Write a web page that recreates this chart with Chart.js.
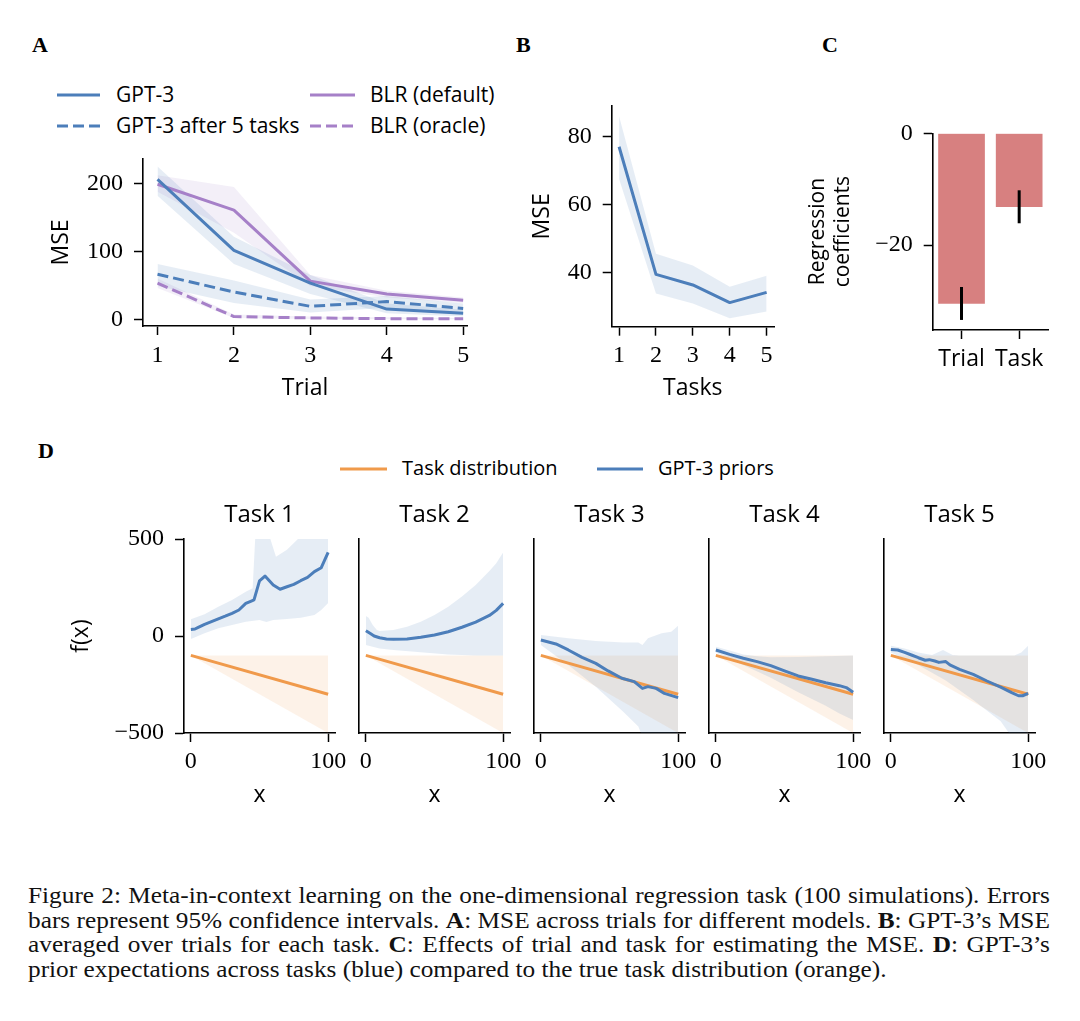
<!DOCTYPE html>
<html>
<head>
<meta charset="utf-8">
<script src="https://cdn.jsdelivr.net/npm/chart.js@4.4.1/dist/chart.umd.min.js"></script>
<style>
html,body{margin:0;padding:0;background:#fff;}
body{width:1080px;height:1021px;position:relative;overflow:hidden;font-family:'Open Sans',sans-serif;color:#000;}
canvas{position:absolute;}
.letter{position:absolute;font-family:'Liberation Serif',serif;font-weight:bold;font-size:22px;line-height:22px;}
.legtxt{position:absolute;white-space:nowrap;line-height:1;}
.cap{position:absolute;left:28px;width:929px;transform:scaleX(1.1);transform-origin:0 0;font-family:'Liberation Serif',serif;font-size:23px;line-height:24.5px;color:#111;}
.cap div{text-align:justify;text-align-last:justify;white-space:nowrap;height:24.5px;}
.cap div.last{text-align-last:left;}
</style>
</head>
<body>
<script>
// ---------------- DATA ----------------
// Panel A: MSE across trials
const trialTicks = [1, 2, 3, 4, 5];
const mseTicksA = [0, 100, 200];
const seriesNamesA = ['GPT-3', 'GPT-3 after 5 tasks', 'BLR (default)', 'BLR (oracle)'];
const gpt3Mean = [206, 102, 54, 16, 10];
const gpt3Lo = [182, 82, 38, 10, 5];
const gpt3Hi = [225, 122, 66, 24, 15];
const gpt3After5Mean = [67, 41, 20, 27, 17];
const gpt3After5Lo = [50, 25, 11, 18, 10];
const gpt3After5Hi = [82, 58, 30, 35, 24];
const blrDefaultMean = [199, 161, 57, 38, 29];
const blrDefaultLo = [188, 128, 50, 33, 25];
const blrDefaultHi = [212, 195, 66, 43, 33];
const blrOracleMean = [54, 5, 3, 2, 2];
const blrOracleLo = [47, 3, 1.5, 1, 1];
const blrOracleHi = [61, 8, 5, 4, 3];

// Panel B: MSE per task
const taskTicks = [1, 2, 3, 4, 5];
const mseTicksB = [40, 60, 80];
const taskMseMean = [77, 39.4, 36.3, 31.1, 34.1];
const taskMseLo = [67.5, 33.8, 30.8, 26.5, 28.5];
const taskMseHi = [86, 45.5, 42, 35.8, 39];

// Panel C: regression coefficients
const effectNames = ['Trial', 'Task'];
const effectCoef = [-30.5, -13.2];
const effectLo = [-33.4, -16.1];
const effectHi = [-27.5, -10.2];
const coefTicks = [-20, 0];

// Panel D: priors per task
const taskTitles = ['Task 1', 'Task 2', 'Task 3', 'Task 4', 'Task 5'];
const seriesNamesD = ['Task distribution', 'GPT-3 priors'];
const fxTicks = [-500, 0, 500];
const xTicksD = [0, 100];
const distX = [0, 100];
const distMean = [-100, -300];
const distHi = [-100, -100];
const distLo = [-100, -500];

const priorX1 = [0, 3, 5, 10, 15, 20, 25, 30, 35, 40, 44, 46, 50, 54, 60, 65, 70, 75, 80, 85, 90, 95, 100];
const priorMean1 = [34, 36, 43, 60, 74, 88, 102, 117, 134, 168, 180, 186, 284, 309, 263, 241, 254, 266, 285, 302, 332, 352, 431];
const priorHiX1 = [0, 10, 20, 30, 40, 45, 47, 57, 62, 70, 78, 100];
const priorHi1 = [86, 112, 151, 186, 228, 246, 520, 520, 409, 445, 500, 520];
const priorLoX1 = [0, 10, 20, 30, 40, 50, 55, 60, 70, 80, 90, 95, 100];
const priorLo1 = [-15, 14, 40, 57, 74, 82, 72, 82, 88, 94, 108, 134, 170];

const priorX2 = [0, 3, 6, 10, 15, 20, 30, 40, 50, 60, 70, 80, 90, 95, 100];
const priorMean2 = [27, 14, 0, -9, -15, -17, -15, -6, 5, 22, 45, 72, 106, 132, 168];
const priorHiX2 = [0, 2, 5, 8, 10, 20, 30, 40, 50, 60, 70, 80, 90, 95, 100];
const priorHi2 = [103, 94, 57, 31, 26, 31, 48, 74, 108, 151, 203, 263, 335, 375, 431];
const priorLoX2 = [0, 5, 10, 20, 40, 60, 80, 100];
const priorLo2 = [-46, -55, -64, -72, -84, -95, -101, -101];

const priorX3 = [0, 11, 20, 30, 40, 49, 59, 68, 74, 78, 84, 90, 100];
const priorMean3 = [-21, -41, -72, -110, -141, -180, -218, -235, -270, -261, -270, -296, -318];
const priorHiX3 = [0, 20, 40, 60, 71, 74, 78, 88, 95, 100];
const priorHi3 = [5, -12, -26, -33, -33, -46, -12, 14, 22, 53];
const priorLoX3 = [0, 20, 40, 60, 71, 74, 100];
const priorLo3 = [-46, -150, -261, -390, -467, -520, -520];

const priorX4 = [0, 10, 20, 30, 40, 50, 60, 70, 80, 90, 95, 100];
const priorMean4 = [-72, -95, -115, -132, -153, -180, -206, -223, -241, -256, -266, -290];
const priorHiX4 = [0, 10, 20, 30, 40, 60, 80, 100];
const priorHi4 = [-55, -75, -95, -105, -110, -108, -105, -100];
const priorLoX4 = [0, 20, 40, 60, 80, 90, 100];
const priorLo4 = [-85, -150, -215, -290, -360, -400, -433];

const priorX5 = [0, 5, 10, 15, 20, 25, 28, 32, 35, 40, 43, 50, 60, 70, 80, 88, 93, 96, 100];
const priorMean5 = [-69, -72, -84, -98, -112, -125, -122, -129, -136, -132, -149, -172, -198, -232, -264, -292, -308, -308, -296];
const priorHiX5 = [0, 10, 20, 30, 38, 45, 50, 90, 95, 100];
const priorHi5 = [-50, -65, -85, -98, -72, -98, -100, -100, -85, -50];
const priorLoX5 = [0, 20, 40, 60, 80, 88, 100];
const priorLo5 = [-85, -150, -230, -330, -440, -520, -520];

// ---------------- STYLE ----------------
const BLUE = '#4c7eba';
const PURPLE = '#a680c8';
const ORANGE = '#f09a4b';
const BAR = '#d78080';
const BLUE_BAND = 'rgba(79,128,187,0.14)';
const PURPLE_BAND = 'rgba(166,128,200,0.13)';
const ORANGE_BAND = 'rgba(240,154,75,0.13)';
const DASH = [11, 5];
const SERIF = "'Liberation Serif', serif";
Chart.defaults.font.family = "'Open Sans', sans-serif";
Chart.defaults.color = '#000';

const pts = (xs, ys) => xs.map((x, i) => ({x: x, y: ys[i]}));
const tickList = arr => function (scale) { scale.ticks = arr.map(v => ({value: v})); };
function zeroPad(s) { s.paddingTop = 0; s.paddingBottom = 0; s.paddingLeft = 0; s.paddingRight = 0; }
const fitW = w => function (s) { s.width = w; zeroPad(s); };
const fitH = h => function (s) { s.height = h; zeroPad(s); };
const minusFmt = v => (v < 0 ? '\u2212' + Math.abs(v) : String(v));
const GRID = {display: true, drawOnChartArea: false, drawTicks: true, tickLength: 9, tickWidth: 1.5, tickColor: '#000'};
const NOGRID = {display: false};
const BORDER = {display: true, color: '#000', width: 1.6};
const serifTicks = (pad) => ({font: {family: SERIF, size: 24}, color: '#000', padding: pad, maxRotation: 0, autoSkip: false, callback: minusFmt});

function lineDs(xs, ys, color, dash, order) {
  return {data: pts(xs, ys), borderColor: color, borderWidth: 3, borderDash: dash || [], pointRadius: 0,
    fill: false, tension: 0, order: order || 1, borderJoinStyle: 'round', borderCapStyle: 'butt'};
}
function bandDs(xsHi, hi, xsLo, lo, color, order) {
  return [
    {data: pts(xsHi, hi), borderColor: 'rgba(0,0,0,0)', borderWidth: 0, pointRadius: 0, fill: false, order: order || 10},
    {data: pts(xsLo, lo), borderColor: 'rgba(0,0,0,0)', borderWidth: 0, pointRadius: 0, fill: '-1', backgroundColor: color, order: order || 10}
  ];
}
function baseOpts(pad) {
  return {responsive: false, animation: false, devicePixelRatio: 1, events: [],
    layout: {padding: pad},
    plugins: {legend: {display: false}, tooltip: {enabled: false}, title: {display: false}}};
}
function makeCanvas(left, top, w, h) {
  const c = document.createElement('canvas');
  c.width = w; c.height = h;
  c.style.left = left + 'px'; c.style.top = top + 'px';
  c.style.width = w + 'px'; c.style.height = h + 'px';
  document.body.appendChild(c);
  return c;
}
function addText(txt, left, cy, size, cls) {
  const s = document.createElement('div');
  s.className = cls || 'legtxt';
  s.textContent = txt;
  s.style.left = left + 'px';
  s.style.top = (cy - size / 2 - 1) + 'px';
  s.style.fontSize = size + 'px';
  document.body.appendChild(s);
}
function addLegendLine(x1, x2, y, color, dash) {
  const ns = 'http://www.w3.org/2000/svg';
  const svg = document.createElementNS(ns, 'svg');
  svg.setAttribute('width', x2 - x1); svg.setAttribute('height', 6);
  svg.style.position = 'absolute'; svg.style.left = x1 + 'px'; svg.style.top = (y - 3) + 'px';
  const ln = document.createElementNS(ns, 'line');
  ln.setAttribute('x1', 0); ln.setAttribute('x2', x2 - x1); ln.setAttribute('y1', 3); ln.setAttribute('y2', 3);
  ln.setAttribute('stroke', color); ln.setAttribute('stroke-width', 3);
  if (dash) ln.setAttribute('stroke-dasharray', dash.join(' '));
  svg.appendChild(ln);
  document.body.appendChild(svg);
}
function addLetter(t, left, top) {
  const d = document.createElement('div');
  d.className = 'letter'; d.textContent = t; d.style.left = left + 'px'; d.style.top = top + 'px';
  document.body.appendChild(d);
}

// ---------------- PANEL LETTERS ----------------
addLetter('A', 32, 34);
addLetter('B', 516, 34);
addLetter('C', 822, 34);
addLetter('D', 38, 440);

// ---------------- PANEL A ----------------
addLegendLine(57, 100, 95, BLUE, null);
addText(seriesNamesA[0], 116, 95, 21);
addLegendLine(57, 100, 126, BLUE, DASH);
addText(seriesNamesA[1], 116, 126, 21);
addLegendLine(310, 355, 95, PURPLE, null);
addText(seriesNamesA[2], 370, 95, 21);
addLegendLine(310, 355, 126, PURPLE, DASH);
addText(seriesNamesA[3], 370, 126, 21);

const cA = makeCanvas(40, 150, 440, 260);
new Chart(cA, {
  type: 'line',
  data: {datasets: [
    ...bandDs(trialTicks, gpt3Hi, trialTicks, gpt3Lo, BLUE_BAND),
    ...bandDs(trialTicks, blrDefaultHi, trialTicks, blrDefaultLo, PURPLE_BAND),
    ...bandDs(trialTicks, gpt3After5Hi, trialTicks, gpt3After5Lo, BLUE_BAND),
    ...bandDs(trialTicks, blrOracleHi, trialTicks, blrOracleLo, PURPLE_BAND),
    lineDs(trialTicks, blrOracleMean, PURPLE, DASH, 4),
    lineDs(trialTicks, gpt3After5Mean, BLUE, DASH, 3),
    lineDs(trialTicks, blrDefaultMean, PURPLE, null, 2),
    lineDs(trialTicks, gpt3Mean, BLUE, null, 1)
  ]},
  options: Object.assign(baseOpts({left: 0, top: 9, right: 13, bottom: 0}), {
    scales: {
      x: {type: 'linear', min: 0.81, max: 5.05, afterBuildTicks: tickList(trialTicks), afterFit: fitH(84),
        grid: GRID, border: BORDER, ticks: serifTicks(6),
        title: {display: true, text: 'Trial', font: {size: 23}, color: '#000', padding: {top: 0, bottom: 8}}},
      y: {type: 'linear', min: -8.8, max: 236, afterBuildTicks: tickList(mseTicksA), afterFit: fitW(103),
        grid: GRID, border: BORDER, ticks: serifTicks(11),
        title: {display: true, text: 'MSE', font: {size: 23}, color: '#000', padding: {top: 8, bottom: 0}}}
    }
  })
});

// ---------------- PANEL B ----------------
const cB = makeCanvas(500, 95, 285, 320);
new Chart(cB, {
  type: 'line',
  data: {datasets: [
    ...bandDs(taskTicks, taskMseHi, taskTicks, taskMseLo, BLUE_BAND),
    lineDs(taskTicks, taskMseMean, BLUE, null, 1)
  ]},
  options: Object.assign(baseOpts({left: 0, top: 11, right: 11, bottom: 0}), {
    scales: {
      x: {type: 'linear', min: 0.8, max: 5.2, afterBuildTicks: tickList(taskTicks), afterFit: fitH(88.3),
        grid: GRID, border: BORDER, ticks: serifTicks(6),
        title: {display: true, text: 'Tasks', font: {size: 23}, color: '#000', padding: {top: 0, bottom: 13}}},
      y: {type: 'linear', min: 24, max: 89, afterBuildTicks: tickList(mseTicksB), afterFit: fitW(111.7),
        grid: GRID, border: BORDER, ticks: serifTicks(11),
        title: {display: true, text: 'MSE', font: {size: 23}, color: '#000', padding: {top: 29, bottom: 0}}}
    }
  })
});

// ---------------- PANEL C ----------------
const errorBars = {
  id: 'errorBars',
  afterDatasetsDraw(chart) {
    const meta = chart.getDatasetMeta(0);
    const ys = chart.scales.y;
    const ctx = chart.ctx;
    ctx.save();
    ctx.strokeStyle = '#000'; ctx.lineWidth = 3; ctx.lineCap = 'butt';
    meta.data.forEach((bar, i) => {
      ctx.beginPath();
      ctx.moveTo(bar.x, ys.getPixelForValue(effectLo[i]));
      ctx.lineTo(bar.x, ys.getPixelForValue(effectHi[i]));
      ctx.stroke();
    });
    ctx.restore();
  }
};
const cC = makeCanvas(800, 115, 260, 300);
new Chart(cC, {
  type: 'bar',
  data: {labels: effectNames, datasets: [{data: effectCoef, backgroundColor: BAR, borderWidth: 0, barPercentage: 0.81, categoryPercentage: 1}]},
  options: Object.assign(baseOpts({left: 0, top: 18.3, right: 12, bottom: 0}), {
    scales: {
      x: {type: 'category', offset: true, afterFit: fitH(85),
        grid: Object.assign({}, GRID, {offset: false}), border: BORDER,
        ticks: {font: {size: 23}, color: '#000', padding: 7, maxRotation: 0, autoSkip: false}},
      y: {type: 'linear', min: -35.2, max: 0, afterBuildTicks: tickList(coefTicks), afterFit: fitW(132.7),
        grid: GRID, border: BORDER, ticks: serifTicks(11),
        title: {display: true, text: ['Regression', 'coefficients'], font: {size: 21}, color: '#000', padding: {top: 5, bottom: 0}}}
    }
  }),
  plugins: [errorBars]
});

// ---------------- PANEL D ----------------
addLegendLine(340, 387, 469, ORANGE, null);
addText(seriesNamesD[0], 402, 469, 20);
addLegendLine(597, 643, 469, BLUE, null);
addText(seriesNamesD[1], 658, 469, 20);

const priorX = [priorX1, priorX2, priorX3, priorX4, priorX5];
const priorMean = [priorMean1, priorMean2, priorMean3, priorMean4, priorMean5];
const priorHiX = [priorHiX1, priorHiX2, priorHiX3, priorHiX4, priorHiX5];
const priorHi = [priorHi1, priorHi2, priorHi3, priorHi4, priorHi5];
const priorLoX = [priorLoX1, priorLoX2, priorLoX3, priorLoX4, priorLoX5];
const priorLo = [priorLo1, priorLo2, priorLo3, priorLo4, priorLo5];

const axisLeftD = [184, 359, 534, 709, 884];
const plotWD = 151;
taskTitles.forEach((title, i) => {
  const left = i === 0 ? 60 : axisLeftD[i] - 24;
  const yW = axisLeftD[i] - left;
  const c = makeCanvas(left, 490, yW + plotWD + 26, 330);
  const first = i === 0;
  const opts = baseOpts({left: 0, top: 0, right: 26, bottom: 0});
  opts.plugins.title = {display: true, text: title, fullSize: false, font: {size: 24, weight: 'normal'}, color: '#000', padding: {top: 10.6, bottom: 9.6}};
  opts.scales = {
    x: {type: 'linear', min: -5, max: 105, afterBuildTicks: tickList(xTicksD), afterFit: fitH(87),
      grid: GRID, border: BORDER, ticks: serifTicks(5.6),
      title: {display: true, text: 'x', font: {size: 23}, color: '#000', padding: {top: 0, bottom: 11}}},
    y: {type: 'linear', min: -500, max: 500, afterBuildTicks: tickList(fxTicks), afterFit: fitW(yW),
      grid: first ? GRID : NOGRID, border: BORDER,
      ticks: Object.assign(serifTicks(11), {display: first}),
      title: {display: first, text: 'f(x)', font: {size: 23}, color: '#000', padding: {top: 8, bottom: 0}}}
  };
  new Chart(c, {
    type: 'line',
    data: {datasets: [
      ...bandDs(distX, distHi, distX, distLo, ORANGE_BAND, 12),
      ...bandDs(priorHiX[i], priorHi[i], priorLoX[i], priorLo[i], BLUE_BAND, 11),
      lineDs(distX, distMean, ORANGE, null, 2),
      lineDs(priorX[i], priorMean[i], BLUE, null, 1)
    ]},
    options: opts
  });
});
</script>
<div class="cap" style="top:884px">
<div>Figure 2: Meta-in-context learning on the one-dimensional regression task (100 simulations). Errors</div>
<div>bars represent 95% confidence intervals. <b>A</b>: MSE across trials for different models. <b>B</b>: GPT-3’s MSE</div>
<div>averaged over trials for each task. <b>C</b>: Effects of trial and task for estimating the MSE. <b>D</b>: GPT-3’s</div>
<div class="last">prior expectations across tasks (blue) compared to the true task distribution (orange).</div>
</div>
</body>
</html>
